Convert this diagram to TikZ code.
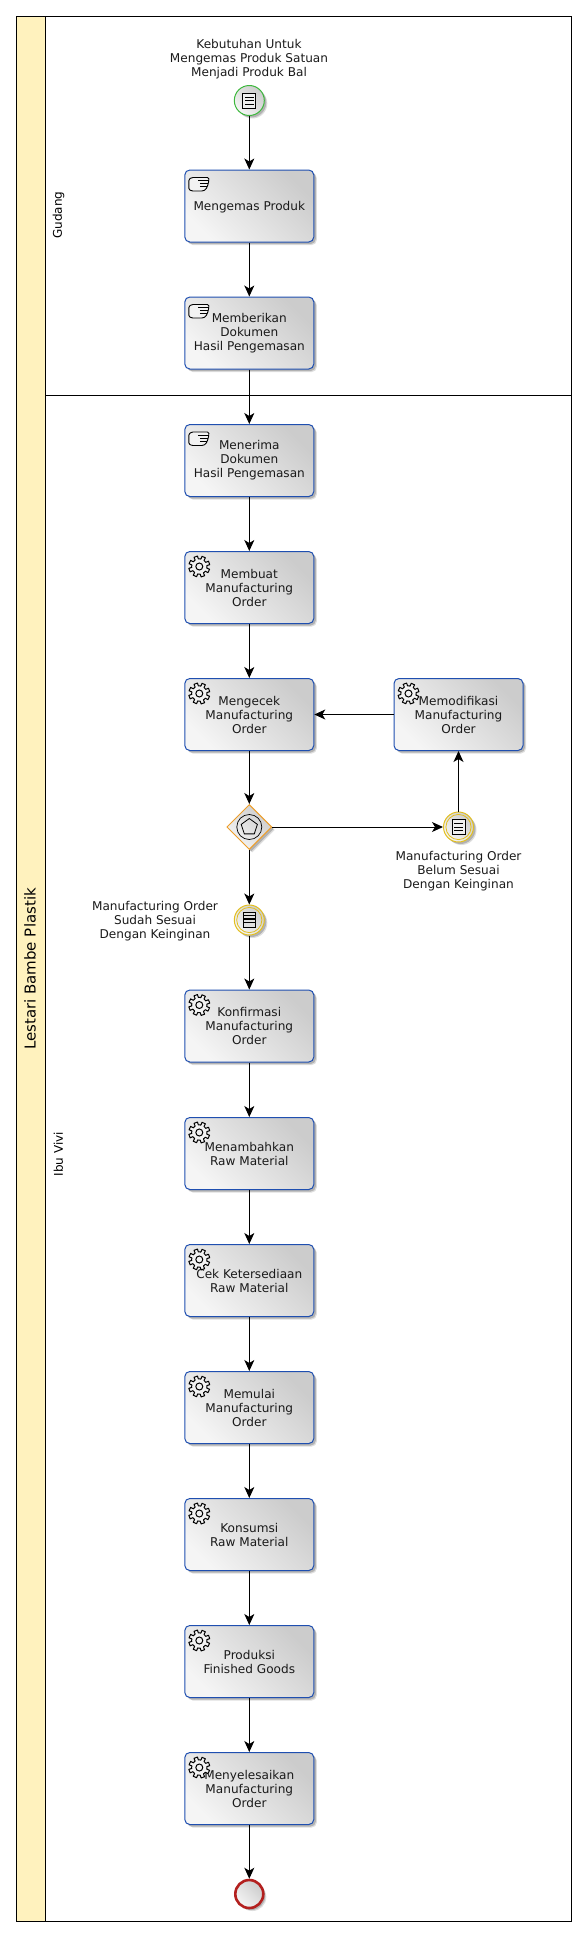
\documentclass[tikz,border=0pt]{standalone}
\usepackage{fontspec}
\setmainfont{DejaVu Sans}
\usetikzlibrary{arrows.meta,shapes.geometric,shadows,positioning}
\definecolor{poolband}{HTML}{FFF2BE}
\definecolor{taskblue}{HTML}{1F4FB0}
\definecolor{startgreen}{HTML}{3DB83D}
\definecolor{interyellow}{HTML}{E3BF1E}
\definecolor{gateorange}{HTML}{EE9E2A}
\definecolor{endred}{HTML}{B3201F}
\definecolor{inktext}{HTML}{1A1A1A}
\tikzset{
  x=1pt,y=1pt,
  softshadow/.style={
    general shadow={shadow xshift=3pt,shadow yshift=-3pt,fill=black,opacity=.13},
    general shadow={shadow xshift=2pt,shadow yshift=-2pt,fill=black,opacity=.2}},
  bpmnfill/.style={left color=white!96!black,right color=white!80!black,shading angle=135},
  taskbox/.style={draw=taskblue,line width=1pt,rounded corners=5pt,minimum width=129pt,minimum height=72pt,
     inner sep=0pt,align=center,font=\fontsize{12.1}{14}\selectfont,text=inktext,bpmnfill,softshadow,
     execute at begin node={\rule{0pt}{11.5pt}}},
  startev/.style={circle,draw=startgreen,line width=1pt,minimum size=30pt,inner sep=0pt,bpmnfill,softshadow},
  interev/.style={circle,draw=interyellow,line width=1pt,minimum size=30pt,inner sep=0pt,bpmnfill,softshadow},
  endev/.style={circle,draw=endred,line width=2.6pt,minimum size=28pt,inner sep=0pt,bpmnfill,softshadow},
  gate/.style={diamond,aspect=1,draw=gateorange,line width=1pt,minimum size=45pt,inner sep=0pt,bpmnfill,softshadow},
  lbl/.style={align=center,font=\fontsize{12.1}{14}\selectfont,text=inktext,inner sep=0pt},
  flow/.style={draw=black,line width=1pt,-{Stealth[length=11pt,width=10pt,inset=3pt]}},
  docicon/.pic={
    \draw[black,line width=1pt,fill=white!94!black] (-6.5,-7.5) rectangle (6.5,7.5);
    \foreach \yy in {-3.5,0,3.5}{\draw[black,line width=.8pt] (-4.5,\yy) -- (4.5,\yy);}
  },
  docfull/.pic={
    \draw[black,line width=1.1pt,fill=white!88!black] (-6,-7.5) rectangle (6,7.5);
    \foreach \yy in {-2.5,1,4.5}{\draw[black,line width=1.1pt] (-6,\yy) -- (6,\yy);}
  },
  handicon/.pic={
    \draw[black,line width=.9pt,rounded corners=1.2pt,fill=white!95!black]
      (0,2) -- (0,12) -- (3,14) -- (20,14) -- (20,11) -- (19.5,8) -- (18.5,5) -- (17,2) -- (14,0.5) -- (3,0.5) -- cycle;
    \draw[black,line width=.8pt] (9,11) -- (20,11) (11,8) -- (19.5,8) (11,5) -- (18.5,5);
  },
  gearicon/.pic={
    \draw[black,line width=1pt,fill=white!95!black,line join=round,rotate=20]
      (-22.5:7.6) \foreach \a in {0,45,...,315}{ -- (\a-13:7.6) -- (\a-10:10.6) -- (\a+10:10.6) -- (\a+13:7.6) -- (\a+22.5:7.6)} -- cycle;
    \draw[black,line width=1pt] (0,0) circle (3.5);
  },
}
\begin{document}
\begin{tikzpicture}
\useasboundingbox (0,0) rectangle (587,-1936);
% pool
\node[draw=black,line width=1pt,minimum width=555pt,minimum height=1905pt,inner sep=0pt,anchor=north west] (pool) at (15.5,-15.5) {};
\node[draw=black,line width=1pt,fill=poolband,minimum width=29.5pt,minimum height=1905pt,inner sep=0pt,anchor=north west] (band) at (15.5,-15.5) {};
\coordinate (laneL) at (45,-395.5);
\coordinate (laneR) at (570.5,-395.5);
\draw[black,line width=1pt] (laneL) -- (laneR);
\node[rotate=90,font=\fontsize{15}{17}\selectfont,inner sep=0pt] (pooltitle) at (30,-969) {Lestari Bambe Plastik};
\node[rotate=90,font=\fontsize{12}{14}\selectfont,inner sep=0pt] (lane1) at (58.5,-215) {Gudang};
\node[rotate=90,font=\fontsize{12}{14}\selectfont,inner sep=0pt] (lane2) at (58.5,-1154) {Ibu Vivi};
% nodes
\node[startev] (start) at (249.3,-100.5) {};
\node[lbl] (startl) at (249,-58.7) {Kebutuhan Untuk\\Mengemas Produk Satuan\\Menjadi Produk Bal};
\node[taskbox] (t1) at (249.3,-206) {Mengemas Produk};
\node[taskbox] (t2) at (249.3,-333) {Memberikan\\Dokumen\\Hasil Pengemasan};
\node[taskbox] (t3) at (249.3,-460.5) {Menerima\\Dokumen\\Hasil Pengemasan};
\node[taskbox] (t4) at (249.3,-587.5) {Membuat\\Manufacturing\\Order};
\node[taskbox] (t5) at (249.3,-714.5) {Mengecek\\Manufacturing\\Order};
\node[taskbox] (t6) at (458.5,-714.5) {Memodifikasi\\Manufacturing\\Order};
\node[gate] (g) at (249.3,-827) {};
\node[interev] (e1) at (458.5,-827) {};
\node[lbl] (e1l) at (458.5,-871) {Manufacturing Order\\Belum Sesuai\\Dengan Keinginan};
\node[interev] (e2) at (249.3,-920) {};
\node[lbl] (e2l) at (155,-921) {Manufacturing Order\\Sudah Sesuai\\Dengan Keinginan};
\node[taskbox] (t7) at (249.3,-1026) {Konfirmasi\\Manufacturing\\Order};
\node[taskbox] (t8) at (249.3,-1153.5) {Menambahkan\\Raw Material};
\node[taskbox] (t9) at (249.3,-1280.5) {Cek Ketersediaan\\Raw Material};
\node[taskbox] (t10) at (249.3,-1407.5) {Memulai\\Manufacturing\\Order};
\node[taskbox] (t11) at (249.3,-1534.5) {Konsumsi\\Raw Material};
\node[taskbox] (t12) at (249.3,-1661.5) {Produksi\\Finished Goods};
\node[taskbox] (t13) at (249.3,-1788.5) {Menyelesaikan\\Manufacturing\\Order};
\node[endev] (end) at (249.3,-1894) {};
% icons
\draw[interyellow,line width=.8pt] (e1.center) circle (12.6);
\draw[interyellow,line width=.8pt] (e2.center) circle (12.6);
\pic at (start.center) {docicon};
\pic at (e1.center) {docicon};
\pic at (e2.center) {docfull};
\foreach \n in {t1,t2,t3}{\pic at ([xshift=4.5pt,yshift=-22pt]\n.north west) {handicon};}
\foreach \n in {t4,t5,t6,t7,t8,t9,t10,t11,t12,t13}{\pic at ([xshift=15pt,yshift=-15.5pt]\n.north west) {gearicon};}
\draw[black,line width=.7pt] (g.center) circle (12.5);
\node[regular polygon,regular polygon sides=5,draw=black,line width=.8pt,minimum size=17pt,inner sep=0pt] (gp) at (g.center) {};
% flows
\draw[flow] (start) -- (t1);
\draw[flow] (t1) -- (t2);
\draw[flow] (t2) -- (t3);
\draw[flow] (t3) -- (t4);
\draw[flow] (t4) -- (t5);
\draw[flow] (t5) -- (g);
\draw[flow] (g) -- (e1);
\draw[flow] (e1) -- (t6);
\draw[flow] (t6) -- (t5);
\draw[flow] (g) -- (e2);
\draw[flow] (e2) -- (t7);
\draw[flow] (t7) -- (t8);
\draw[flow] (t8) -- (t9);
\draw[flow] (t9) -- (t10);
\draw[flow] (t10) -- (t11);
\draw[flow] (t11) -- (t12);
\draw[flow] (t12) -- (t13);
\draw[flow] (t13) -- (end);
\end{tikzpicture}
\end{document}
